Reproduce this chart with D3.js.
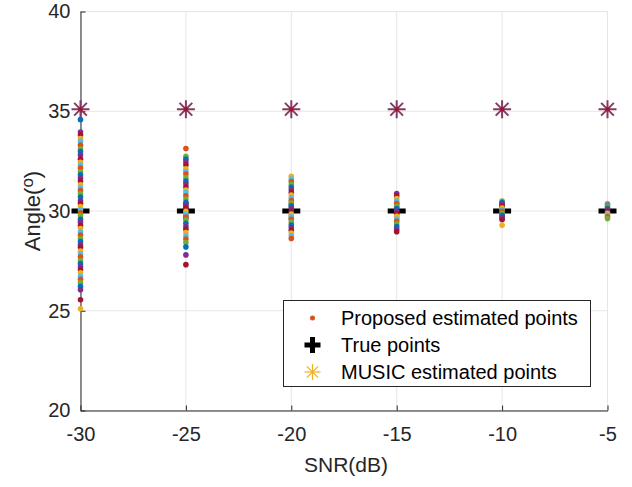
<!DOCTYPE html>
<html>
<head>
<meta charset="utf-8">
<script src="https://cdn.jsdelivr.net/npm/d3@7/dist/d3.min.js"></script>
<style>
  html, body { margin: 0; padding: 0; background: #fff; }
  svg { display: block; font-family: "Liberation Sans", Arial, sans-serif; }
</style>
</head>
<body>
<svg id="chart" width="632" height="487"></svg>
<script>
// SNR levels (dB) on the x axis
const snrLevels = [-30, -25, -20, -15, -10, -5];
// True source angle at every SNR
const trueAngles = [30, 30, 30, 30, 30, 30];
// MUSIC estimates (all trials collapse to the same peak)
const musicAngles = [35.1, 35.1, 35.1, 35.1, 35.1, 35.1];

// Proposed method estimates, one list per SNR level
const proposedM30 = [34.58, 33.96, 33.82, 33.63, 33.49, 33.3, 33.12, 32.98, 32.81, 32.6, 32.44, 32.3, 32.15, 31.97, 31.82, 31.66, 31.5, 31.31, 31.18, 31.02, 30.86, 30.7, 30.51, 30.38, 30.22, 30.05, 29.91, 29.77, 29.58, 29.44, 29.27, 29.12, 28.95, 28.8, 28.62, 28.47, 28.31, 28.18, 27.99, 27.84, 27.7, 27.52, 27.36, 27.2, 27.05, 26.9, 26.73, 26.58, 26.4, 26.22, 26.05, 25.55, 25.1];
const proposedM25 = [33.13, 32.74, 32.6, 32.45, 32.3, 32.12, 31.98, 31.85, 31.66, 31.5, 31.36, 31.2, 31.05, 30.92, 30.76, 30.6, 30.44, 30.3, 30.15, 29.98, 29.84, 29.7, 29.55, 29.38, 29.22, 29.08, 28.92, 28.75, 28.6, 28.42, 28.2, 27.8, 27.31];
const proposedM20 = [31.74, 31.6, 31.47, 31.33, 31.2, 31.06, 30.93, 30.8, 30.66, 30.52, 30.4, 30.26, 30.12, 29.98, 29.85, 29.71, 29.58, 29.44, 29.3, 29.17, 29.03, 28.9, 28.76, 28.62];
const proposedM15 = [30.88, 30.75, 30.62, 30.5, 30.37, 30.24, 30.12, 30.0, 29.87, 29.74, 29.6, 29.48, 29.35, 29.22, 29.08, 28.96];
const proposedM10 = [30.5, 30.42, 30.33, 30.24, 30.15, 30.06, 29.98, 29.88, 29.78, 29.68, 29.56, 29.28];
const proposedM5 = [30.37, 30.3, 30.22, 30.14, 30.05, 29.97, 29.88, 29.8, 29.71, 29.62];
const proposedSets = [proposedM30, proposedM25, proposedM20, proposedM15, proposedM10, proposedM5];

const xTicks = [-30, -25, -20, -15, -10, -5];
const yTicks = [20, 25, 30, 35, 40];
const legendLabels = ["Proposed estimated points", "True points", "MUSIC estimated points"];

const palette = ["#0072BD", "#D95319", "#EDB120", "#7E2F8E", "#77AC30", "#4DBEEE", "#A2142F"];
const axisColor = "#262626";

const svg = d3.select("#chart");
const m = { left: 80.5, right: 607.5, top: 11.5, bottom: 410.5 };

const x = d3.scaleLinear().domain([-30, -5]).range([m.left, m.right]);
const y = d3.scaleLinear().domain([20, 40]).range([m.bottom, m.top]);

// grid
const grid = svg.append("g");
grid.selectAll("line.gx").data(xTicks).join("line")
  .attr("x1", d => x(d)).attr("x2", d => x(d))
  .attr("y1", m.top).attr("y2", m.bottom)
  .attr("stroke", "#e6e6e6").attr("stroke-width", 1);
grid.selectAll("line.gy").data(yTicks).join("line")
  .attr("x1", m.left).attr("x2", m.right)
  .attr("y1", d => y(d)).attr("y2", d => y(d))
  .attr("stroke", "#e6e6e6").attr("stroke-width", 1);

// axes (plain hyphen-minus in labels)
const fmt = d => String(d);
const xAxis = d3.axisBottom(x).tickValues(xTicks).tickSizeInner(-5).tickSizeOuter(0).tickPadding(17).tickFormat(fmt);
const yAxis = d3.axisLeft(y).tickValues(yTicks).tickSizeInner(-5).tickSizeOuter(0).tickPadding(10).tickFormat(fmt);

const gx = svg.append("g").attr("transform", `translate(0,${m.bottom})`).call(xAxis);
const gy = svg.append("g").attr("transform", `translate(${m.left},0)`).call(yAxis);
[gx, gy].forEach(g => {
  g.select(".domain").attr("stroke", axisColor);
  g.selectAll(".tick line").attr("stroke", axisColor);
  g.selectAll(".tick text").attr("fill", axisColor).attr("font-size", 20)
    .attr("font-family", "Liberation Sans, Arial, sans-serif");
});
gx.selectAll(".tick text").attr("dy", "0.68em");

// axis labels
svg.append("text").attr("x", (m.left + m.right) / 2 + 2).attr("y", 472)
  .attr("text-anchor", "middle").attr("font-size", 21).attr("fill", axisColor)
  .text("SNR(dB)");
const yl = svg.append("text")
  .attr("transform", `translate(40,${(m.top + m.bottom) / 2}) rotate(-90)`)
  .attr("text-anchor", "middle").attr("font-size", 22).attr("fill", axisColor);
yl.append("tspan").text("Angle(");
yl.append("tspan").attr("font-size", 17).attr("dy", -7).text("o");
yl.append("tspan").attr("dy", 7).text(")");

// plus-shaped marker path
function plusPath(cx, cy, half, thick) {
  const t = thick / 2;
  return `M${cx - half},${cy - t}H${cx - t}V${cy - half}H${cx + t}V${cy - t}H${cx + half}V${cy + t}H${cx + t}V${cy + half}H${cx - t}V${cy + t}H${cx - half}Z`;
}
// asterisk marker
function drawStar(g, cx, cy, r, color, width) {
  [0, 45, 90, 135].forEach(a => {
    const rad = a * Math.PI / 180;
    g.append("line")
      .attr("x1", cx - r * Math.cos(rad)).attr("y1", cy - r * Math.sin(rad))
      .attr("x2", cx + r * Math.cos(rad)).attr("y2", cy + r * Math.sin(rad))
      .attr("stroke", color).attr("stroke-width", width);
  });
}

// true points
svg.append("g").selectAll("path").data(snrLevels.map((s, i) => [s, trueAngles[i]])).join("path")
  .attr("d", d => plusPath(x(d[0]), y(d[1]), 9, 5))
  .attr("fill", "#000");

// proposed estimates
const dots = svg.append("g");
proposedSets.forEach((vals, i) => {
  dots.selectAll(null).data(vals).join("circle")
    .attr("cx", x(snrLevels[i]))
    .attr("cy", d => y(d))
    .attr("r", 2.8)
    .attr("fill", (d, j) => palette[(j * 3 + i) % palette.length]);
});

// MUSIC estimates
const stars = svg.append("g");
snrLevels.forEach((s, i) => {
  drawStar(stars, x(s), y(musicAngles[i]), 9, "#843A62", 2);
  stars.append("circle").attr("cx", x(s)).attr("cy", y(musicAngles[i])).attr("r", 2.2).attr("fill", "#A2142F");
});

// legend
const lg = svg.append("g");
lg.append("rect").attr("x", 283.5).attr("y", 300.5).attr("width", 307).attr("height", 86)
  .attr("fill", "#fff").attr("stroke", axisColor).attr("stroke-width", 1);
const rowY = [318, 345, 372];
lg.selectAll("text").data(legendLabels).join("text")
  .attr("x", 341).attr("y", (d, i) => rowY[i]).attr("dy", "0.35em")
  .attr("font-size", 20).attr("fill", "#000").text(d => d);
lg.append("circle").attr("cx", 312.5).attr("cy", rowY[0]).attr("r", 2.5).attr("fill", "#D95319");
lg.append("path").attr("d", plusPath(312.5, rowY[1], 8, 5)).attr("fill", "#000");
drawStar(lg, 312.5, rowY[2], 8, "#EDB120", 1.2);
</script>
</body>
</html>
